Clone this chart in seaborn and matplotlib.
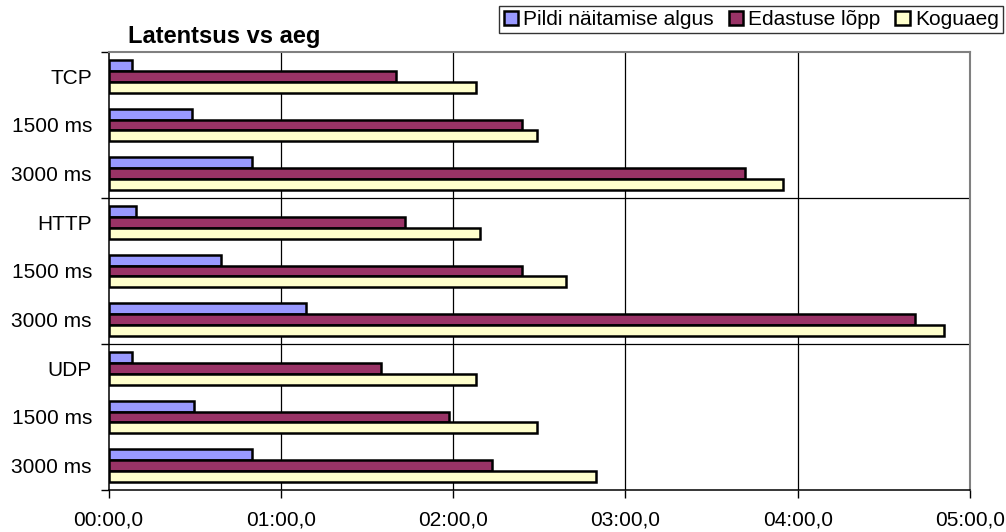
import matplotlib
matplotlib.use("Agg")
import matplotlib.pyplot as plt
import seaborn as sns
import pandas as pd
from matplotlib.ticker import FuncFormatter, FixedLocator

# Rows of the chart, top to bottom
row_labels = ["TCP", "1500 ms", "3000 ms",
              "HTTP", "1500 ms", "3000 ms",
              "UDP", "1500 ms", "3000 ms"]

series_names = ["Pildi näitamise algus", "Edastuse lõpp", "Koguaeg"]

# Times in seconds
pildi_algus = [8.3, 29.1, 50.0, 9.5, 39.0, 68.6, 8.1, 29.6, 50.0]
edastuse_lopp = [100.0, 144.0, 221.5, 103.4, 144.0, 281.0, 95.0, 118.5, 133.6]
koguaeg = [128.0, 149.1, 234.8, 129.3, 159.4, 290.9, 127.9, 149.3, 169.9]

x_ticks = [0, 60, 120, 180, 240, 300]

colors = ["#9999FF", "#993366", "#FFFFCC"]

row_keys = [f"r{i}" for i in range(len(row_labels))]
frames = []
for name, vals in zip(series_names, [pildi_algus, edastuse_lopp, koguaeg]):
    frames.append(pd.DataFrame({"rida": row_keys, "aeg": vals, "seeria": name}))
df = pd.concat(frames, ignore_index=True)

sns.set_style("white")
plt.rcParams["font.family"] = ["Liberation Sans", "DejaVu Sans"]
plt.rcParams["text.color"] = "black"
plt.rcParams["axes.labelcolor"] = "black"
plt.rcParams["xtick.color"] = "black"
plt.rcParams["ytick.color"] = "black"

fig = plt.figure(figsize=(10.06, 5.32), dpi=100)
ax = fig.add_axes([108.6 / 1006, 1 - 490 / 532, (970 - 108.6) / 1006, (490 - 52) / 532])

sns.barplot(data=df, y="rida", x="aeg", hue="seeria", order=row_keys,
            hue_order=series_names, palette=colors, orient="h",
            width=0.665, edgecolor="black", linewidth=1.8, ax=ax,
            legend=True, saturation=1)

ax.set_xlim(0, 300)
ax.set_ylim(len(row_labels) - 0.5, -0.5)
ax.set_xlabel("")
ax.set_ylabel("")


def mmss(v, pos=None):
    m = int(v // 60)
    s = v - m * 60
    return f"{m:02d}:{int(s):02d},0"


ax.xaxis.set_major_locator(FixedLocator(x_ticks))
ax.xaxis.set_major_formatter(FuncFormatter(mmss))
ax.tick_params(axis="x", direction="out", length=6, width=1, color="black",
               labelcolor="black", labelsize=15, pad=9, bottom=True)

ax.set_yticks(range(len(row_labels)))
ax.set_yticklabels(row_labels)
ax.tick_params(axis="y", which="major", length=0, labelsize=15, pad=12,
               labelcolor="black")
ax.yaxis.set_minor_locator(FixedLocator([-0.5, 2.5, 5.5, 8.5]))
ax.tick_params(axis="y", which="minor", direction="out", length=6, width=1,
               color="black", left=True)

# Gridlines
for xv in x_ticks[1:-1]:
    ax.axvline(xv, color="black", lw=0.9, zorder=0)
for yv in [2.5, 5.5]:
    ax.axhline(yv, color="black", lw=0.9, zorder=0)

for side in ["left", "bottom"]:
    ax.spines[side].set_color("black")
    ax.spines[side].set_linewidth(1.1)
for side in ["top", "right"]:
    ax.spines[side].set_color("#808080")
    ax.spines[side].set_linewidth(1.5)
    ax.spines[side].set_visible(True)

handles, labels = ax.get_legend_handles_labels()
ax.get_legend().remove()
leg = fig.legend(handles, labels, loc="upper right",
                 bbox_to_anchor=(1003 / 1006, 1 - 6 / 532), ncol=3,
                 frameon=True, fancybox=False, edgecolor="black",
                 fontsize=15, handlelength=0.7, handleheight=0.7,
                 handletextpad=0.25, columnspacing=0.7, borderpad=0.2,
                 borderaxespad=0, labelcolor="black")
leg.get_frame().set_linewidth(1.0)

fig.text(128 / 1006, 1 - 37 / 532, "Latentsus vs aeg", fontsize=17,
         fontweight="bold", va="center", ha="left", color="black")

fig.savefig("out.png", dpi=100, facecolor="white")
